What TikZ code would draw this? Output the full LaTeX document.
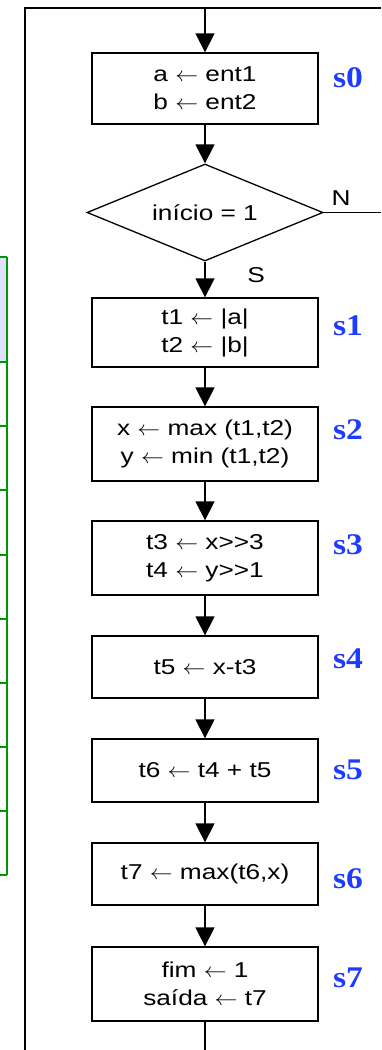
\documentclass[tikz,border=0pt]{standalone}
\usepackage{graphicx}
\usepackage{fontspec}
\setmainfont{Liberation Sans}[FakeStretch=1.22]
\newfontfamily\statefont{Liberation Serif}[FakeStretch=1.12]
\usetikzlibrary{shapes.geometric}
\usetikzlibrary{arrows.meta}
\tikzset{>={Triangle[width=19pt,length=19pt]}}
\definecolor{stateblue}{RGB}{30,60,255}
\definecolor{tablegreen}{RGB}{0,150,0}
\newcommand{\asgn}{\scalebox{1.1}[1]{$\leftarrow$}}

\begin{document}
\begin{tikzpicture}[
    x = 1pt, y = -1pt,
    font = \fontsize{21.5}{28}\selectfont,
    line width = 1.3pt,
    box/.style = {draw, minimum width=226pt, inner sep=2pt, align=center},
    decision/.style = {draw, diamond, aspect=2.43, minimum width=236pt,
        minimum height=97pt, inner sep=0pt},
    state/.style = {text=stateblue, inner sep=0pt,
        font=\fontsize{30}{30}\statefont\bfseries}
  ]
  \useasboundingbox (0,0) rectangle (381,1050);

  % partial table at the left edge
  \fill[blue!12] (0,257) rectangle (7,362);
  \draw[tablegreen, line width=1.5pt] (7,257) -- (7,875);
  \foreach \y in {257, 362, 426, 490, 555, 619, 683, 747, 811, 875}
  \draw[tablegreen, line width=1.5pt] (0,\y) -- (7,\y);

  % states
  \foreach \n/\y/\h/\txt in {0/88.5/71/{a \asgn{} ent1\\b \asgn{} ent2},
      1/332.5/69/{t1 \asgn{} |a|\\t2 \asgn{} |b|},
      2/444/74/{x \asgn{} max (t1,t2)\\y \asgn{} min (t1,t2)},
      3/558/74/{t3 \asgn{} x>{}>3\\t4 \asgn{} y>{}>1},
      4/667/62/{t5 \asgn{} x-t3},
      5/770.5/63/{t6 \asgn{} t4 + t5},
      6/874/62/{t7 \asgn{} max(t6,x)},
      7/984/74/{fim \asgn{} 1\\saída \asgn{} t7}}
  \node[box, minimum height=\h] (s\n) at (205,\y) {\txt};

  \node[decision] (ini) at (205,212.5) {início = 1};

  \foreach \n/\y in {0/78, 1/326, 2/430, 3/545, 4/659, 5/770, 6/879, 7/978}
  \node[state] (lab\n) at (348,\y) {s\n};

  % frame and flow
  \coordinate (top) at (205,8);
  \coordinate (topL) at (25,8);
  \coordinate (topR) at (381,8);
  \coordinate (botL) at (25,1050);
  \coordinate (out) at (205,1050);
  \coordinate (no) at (381,212.5);
  \draw (topR) -- (topL) -- (botL);
  \draw[->] (top) -- (s0);
  \draw[->] (s0) -- (ini);
  \draw[->] (ini) -- (s1);
  \node (yes) at (256,275) {S};
  \draw (ini) -- (no);
  \node (nolab) at (341,198) {N};
  \foreach \i [count=\j from 2] in {1,...,6}
  \draw[->] (s\i) -- (s\j);
  \draw (s7) -- (out);
\end{tikzpicture}
\end{document}
